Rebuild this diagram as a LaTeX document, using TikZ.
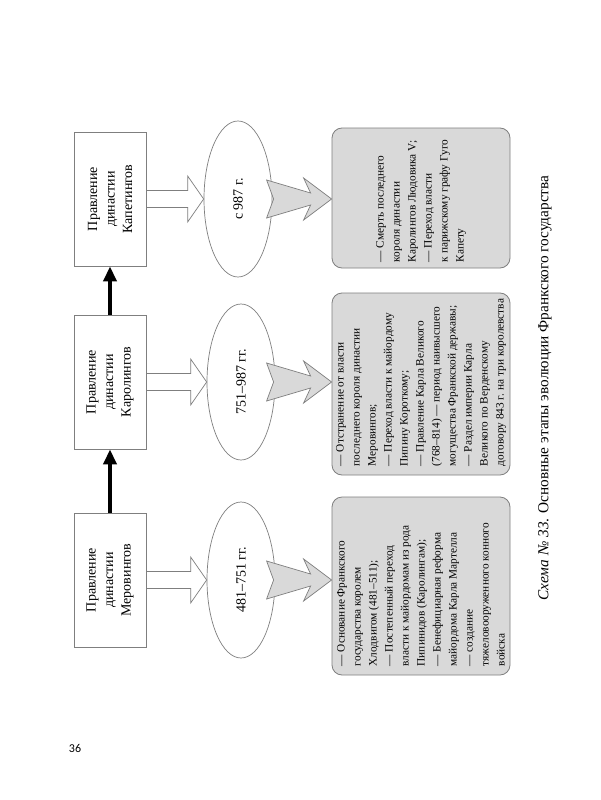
\documentclass[tikz,border=0pt]{standalone}
\usepackage{fontspec}
\setmainfont{Liberation Serif}
\newfontfamily\pagefont{Carlito}
\usetikzlibrary{calc,shapes.geometric,arrows.meta}
\definecolor{edgegray}{HTML}{7F7F7F}
\definecolor{shade}{HTML}{D9D9D9}
\tikzset{
  dynbox/.style={draw=edgegray, line width=0.8pt, rotate=90, minimum width=134pt, minimum height=72pt, inner sep=0pt, align=center, font=\fontsize{14}{17.5}\selectfont},
  era/.style={ellipse, draw=edgegray, line width=0.7pt, rotate=90, minimum width=156pt, minimum height=68pt, inner sep=0pt, font=\fontsize{14}{17}\selectfont},
  eventbox/.style={draw=edgegray, fill=shade, rounded corners=10pt, line width=0.8pt, inner sep=0pt, minimum width=178pt},
  eventtext/.style={rotate=90, anchor=west, inner sep=0pt, align=left, font=\fontsize{11.3}{16}\selectfont},
  succ/.style={line width=4pt, -{Triangle[width=13pt,length=15pt]}},
  hollow/.style={draw=edgegray, fill=white, line width=0.7pt, line join=miter},
  grayarrow/.style={draw=edgegray, fill=shade, line width=0.7pt, line join=miter},
}
\begin{document}
\begin{tikzpicture}[x=1pt,y=-1pt]
\fill[white] (0,0) rectangle (600,800);
\useasboundingbox (0,0) rectangle (600,800);

% dynasty boxes
\node[dynbox] (b1) at (110,580) {Правление\\династии\\Меровингов};
\node[dynbox] (b2) at (110,382) {Правление\\династии\\Каролингов};
\node[dynbox] (b3) at (110,199) {Правление\\династии\\Капетингов};

\draw[succ] (b1.east) -- (b2.west);
\draw[succ] (b2.east) -- (b3.west);

% period ellipses
\node[era] (e1) at (241,580) {481–751 гг.};
\node[era] (e2) at (241,382) {751–987 гг.};
\node[era] (e3) at (238,199) {с 987 г.};

% hollow arrows
\foreach \b/\e in {b1/e1,b2/e2,b3/e3}{
  \draw[hollow] ($(\b.south)+(0,-8.5)$) -- ($(\e.north)+(-16,-8.5)$) -- ($(\e.north)+(-16,-23)$)
    -- (\e.north) -- ($(\e.north)+(-16,23)$) -- ($(\e.north)+(-16,8.5)$) -- ($(\b.south)+(0,8.5)$) -- cycle;
}

% event boxes
\node[eventbox, minimum height=178pt] (r1) at (421,586) {};
\node[eventbox, minimum height=182pt] (r2) at (421,384) {};
\node[eventbox, minimum height=140pt] (r3) at (421,198) {};

\node[eventtext] (t1) at ($(r1.south)+(0,-9)$) {— Основание Франкского\\государства королем\\Хлодвигом (481–511);\\— Постепенный переход\\власти к майордомам из рода\\Пипинидов (Каролингам);\\— Бенефициарная реформа\\майордома Карла Мартелла\\— создание\\тяжеловооруженного конного\\войска};
\node[eventtext] (t2) at ($(r2.south)+(0,-9)$) {— Отстранение от власти\\последнего короля династии\\Меровингов;\\— Переход власти к майордому\\Пипину Короткому;\\— Правление Карла Великого\\(768–814) — период наивысшего\\могущества Франкской державы;\\— Раздел империи Карла\\Великого по Верденскому\\договору 843 г. на три королевства};
\node[eventtext] (t3) at ($(r3.south)+(0,-6)$) {— Смерть последнего\\короля династии\\Каролингов Людовика V;\\— Переход власти\\к парижскому графу Гуго\\Капету};

% gray arrows
\foreach \e/\r/\g in {e1/r1/g1,e2/r2/g2,e3/r3/g3}{
  \coordinate (\g) at (\r.west |- \e.center);
  \draw[grayarrow] ($(\g)+(-65,-19)$) -- ($(\g)+(-21,-6)$) -- ($(\g)+(-28,-21)$) -- (\g)
    -- ($(\g)+(-28,21)$) -- ($(\g)+(-21,6)$) -- ($(\g)+(-65,19)$) -- ($(\g)+(-58,0)$) -- cycle;
}

% caption and page number
\node[rotate=90, inner sep=0pt, font=\fontsize{15.3}{18}\selectfont] (cap) at (545,388) {\textit{Схема №~33}. Основные этапы эволюции Франкского государства};
\node[inner sep=0pt, font=\pagefont\fontsize{12}{12}\selectfont] (pg) at (75,748) {36};
\end{tikzpicture}
\end{document}
